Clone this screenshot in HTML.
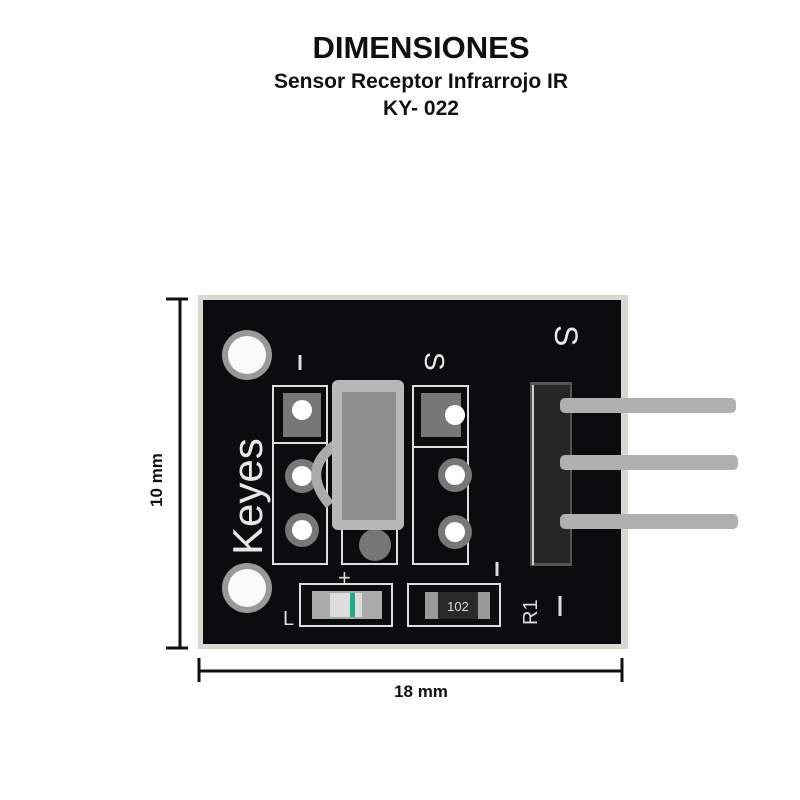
<!DOCTYPE html>
<html><head><style>
body{margin:0;background:#fff;width:800px;height:800px;overflow:hidden}
svg{display:block}
</style></head><body>
<svg width="800" height="800" viewBox="0 0 800 800" font-family="Liberation Sans, sans-serif">
<text x="421" y="58" text-anchor="middle" font-size="31" font-weight="bold" fill="#111">DIMENSIONES</text>
<text x="421" y="88" text-anchor="middle" font-size="21" font-weight="bold" fill="#111">Sensor Receptor Infrarrojo IR</text>
<text x="421" y="115" text-anchor="middle" font-size="21" font-weight="bold" fill="#111">KY- 022</text>
<!-- board -->
<rect x="198" y="295" width="430" height="354" fill="#d8d8d0"/>
<rect x="203" y="300" width="418" height="344" fill="#0c0c0e"/>
<!-- holes -->
<circle cx="247" cy="355" r="25" fill="#999"/><circle cx="247" cy="355" r="19" fill="#fafafa"/>
<circle cx="247" cy="588" r="25" fill="#999"/><circle cx="247" cy="588" r="19" fill="#fafafa"/>
<text transform="translate(262,555) rotate(-90)" font-size="42" fill="#e8e8e8">Keyes</text>
<g stroke="#ddd" stroke-width="3">
<line x1="300" y1="355" x2="300" y2="370"/>
<line x1="497" y1="562" x2="497" y2="576"/>
<line x1="560" y1="596" x2="560" y2="616"/>
</g>
<text transform="translate(425,352) rotate(90)" font-size="28" fill="#e8e8e8">S</text>
<text transform="translate(555,325) rotate(90)" font-size="32" fill="#e8e8e8">S</text>
<g fill="none" stroke="#ddd" stroke-width="2">
<rect x="273" y="386" width="54" height="178"/>
<line x1="273" y1="443" x2="327" y2="443"/>
<rect x="413" y="386" width="55" height="178"/>
<line x1="413" y1="447" x2="468" y2="447"/>
<rect x="342" y="520" width="55" height="44"/>
<rect x="300" y="584" width="92" height="42"/>
<rect x="408" y="584" width="92" height="42"/>
</g>
<rect x="283" y="393" width="38" height="44" fill="#777"/>
<rect x="421" y="393" width="40" height="44" fill="#777"/>
<g fill="#777"><circle cx="302" cy="476" r="17"/><circle cx="302" cy="530" r="17"/><circle cx="455" cy="475" r="17"/><circle cx="455" cy="532" r="17"/><circle cx="375" cy="545" r="16"/></g>
<g fill="#fff"><circle cx="302" cy="410" r="10"/><circle cx="302" cy="476" r="10"/><circle cx="302" cy="530" r="10"/><circle cx="455" cy="415" r="10"/><circle cx="455" cy="475" r="10"/><circle cx="455" cy="532" r="10"/></g>
<text x="338" y="585" font-size="22" fill="#ddd">+</text>
<text x="283" y="625" font-size="20" fill="#ddd">L</text>
<text transform="translate(537,625) rotate(-90)" font-size="20" fill="#ddd">R1</text>
<!-- sensor -->
<path d="M335 445 Q300 470 330 505" stroke="#aaa" stroke-width="10" fill="none"/>
<rect x="332" y="380" width="72" height="150" rx="6" fill="#b8b8b8"/>
<rect x="342" y="392" width="54" height="128" fill="#8e8e8e"/>
<!-- led/resistor -->
<rect x="312" y="591" width="70" height="28" fill="#aaa"/><rect x="330" y="593" width="32" height="24" fill="#ddd"/><rect x="350" y="593" width="5" height="24" fill="#2a8"/>
<rect x="425" y="592" width="65" height="27" fill="#999"/><rect x="438" y="592" width="40" height="27" fill="#2a2a2a"/>
<text x="458" y="611" text-anchor="middle" font-size="13" fill="#ddd">102</text>
<!-- header -->
<rect x="530" y="382" width="42" height="184" fill="#555"/>
<rect x="534" y="385" width="36" height="178" fill="#262626"/>
<line x1="533" y1="385" x2="533" y2="565" stroke="#ccc" stroke-width="2"/>
<g fill="#b0b0b0"><rect x="560" y="398" width="176" height="15" rx="5"/><rect x="560" y="455" width="178" height="15" rx="5"/><rect x="560" y="514" width="178" height="15" rx="5"/></g>
<!-- dimensions -->
<g stroke="#111" stroke-width="3">
<line x1="180" y1="299" x2="180" y2="648"/><line x1="166" y1="299" x2="188" y2="299"/><line x1="166" y1="648" x2="188" y2="648"/>
<line x1="199" y1="671" x2="622" y2="671"/><line x1="199" y1="658" x2="199" y2="682"/><line x1="622" y1="658" x2="622" y2="682"/>
</g>
<text transform="translate(162,480) rotate(-90)" text-anchor="middle" font-size="17" font-weight="bold" fill="#111">10 mm</text>
<text x="421" y="697" text-anchor="middle" font-size="17" font-weight="bold" fill="#111">18 mm</text>
</svg>
</body></html>
